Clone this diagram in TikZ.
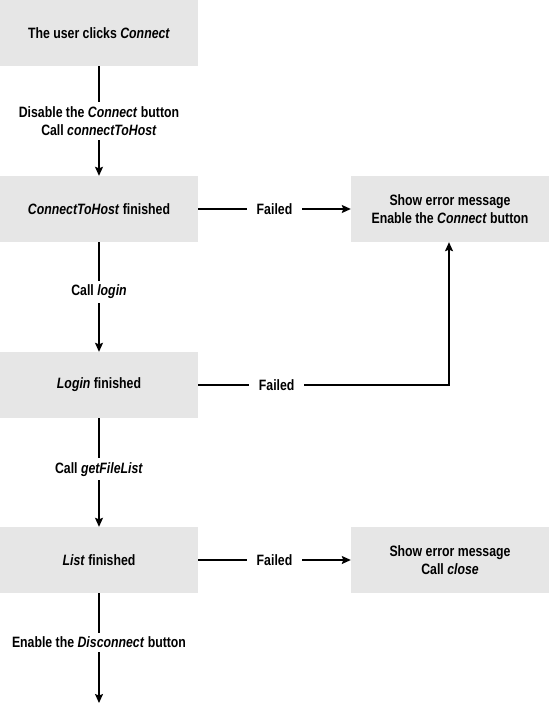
\documentclass[tikz,border=0pt]{standalone}
\usepackage{fontspec}
\setmainfont{Liberation Sans}[FakeStretch=0.82]
\usetikzlibrary{arrows.meta}
\definecolor{boxgray}{HTML}{E6E6E6}
\tikzset{
  txt/.style={font=\bfseries\fontsize{15}{18.5}\selectfont, align=center},
  box/.style={txt, fill=boxgray, minimum width=198pt, minimum height=66pt, inner sep=0pt},
  arr/.style={line width=1.2pt, -{Stealth[length=9pt,width=8pt,inset=1.5pt]}},
  vlab/.style={txt, fill=white, inner xsep=2pt, inner ysep=4pt},
  hlab/.style={txt, fill=white, inner xsep=10pt, inner ysep=2pt},
}
\begin{document}
\begin{tikzpicture}[x=1pt,y=-1pt]
\useasboundingbox (0,0) rectangle (549,703);
\node[box] (b1) at (99,33) {The user clicks \textit{Connect}};
\node[box] (b2) at (99,209) {\textit{ConnectToHost} finished};
\node[box] (e1) at (450,209) {Show error message\\Enable the \textit{Connect} button};
\node[box] (b4) at (99,385) {\textit{Login} finished};
\node[box] (b5) at (99,560) {\textit{List} finished};
\node[box] (e2) at (450,560) {Show error message\\Call \textit{close}};
\coordinate (fin) at (99,703);
\coordinate (corner) at (449,385);

\draw[arr] (b1) -- node[vlab] {Disable the \textit{Connect} button\\Call \textit{connectToHost}} (b2);
\draw[arr] (b2) -- node[vlab, pos=0.45] {Call \textit{login}} (b4);
\draw[arr] (b4) -- node[vlab, pos=0.47] {Call \textit{getFileList}} (b5);
\draw[arr] (b5) -- node[vlab, pos=0.45] {Enable the \textit{Disconnect} button} (fin);

\draw[arr] (b2) -- node[hlab] {Failed} (e1);
\draw[arr] (b4.east) -- node[hlab, pos=0.313] {Failed} (corner) -- (corner |- e1.south);
\draw[arr] (b5) -- node[hlab] {Failed} (e2);
\end{tikzpicture}
\end{document}
